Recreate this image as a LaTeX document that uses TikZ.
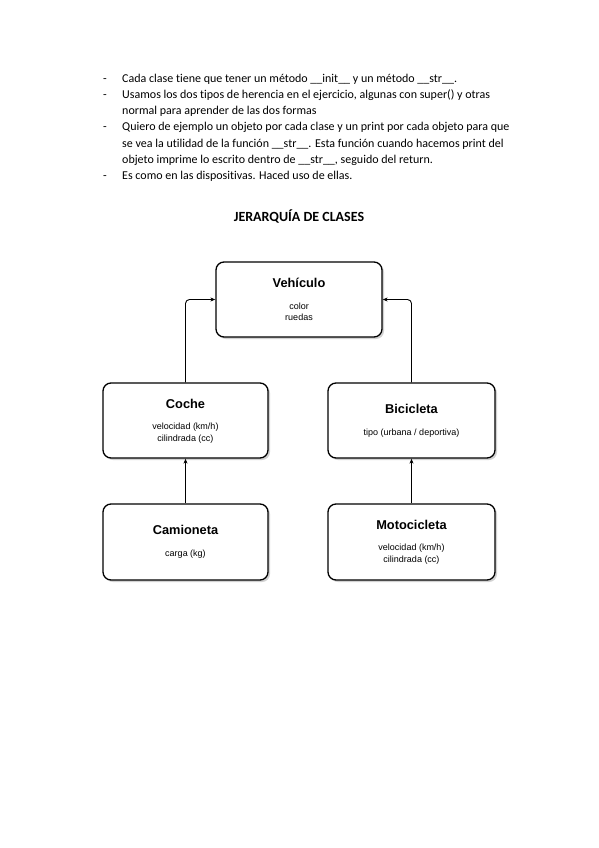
\documentclass[tikz,border=0pt]{standalone}
\usepackage{fontspec}
\setmainfont{Carlito}[Ligatures=NoCommon]
\newfontfamily\boxfont{Liberation Sans}
\usetikzlibrary{shadows,arrows.meta}
\begin{document}
\begin{tikzpicture}[x=1pt,y=-1pt,
  boxnode/.style={draw=black, line width=1.3pt, rounded corners=8pt, fill=white,
    minimum width=#1, minimum height=75pt, inner sep=0pt,
    drop shadow={shadow xshift=2pt, shadow yshift=-2pt, opacity=0.35, fill=gray}},
  boxnode/.default=166pt,
  ttl/.style={font=\boxfont\bfseries\fontsize{12.8}{14}\selectfont, inner sep=0pt},
  attr/.style={font=\boxfont\fontsize{9}{11.5}\selectfont, align=center, inner sep=0pt},
  bul/.style={font=\fontsize{12}{14}\selectfont, anchor=base west, inner sep=0pt},
  arr/.style={-{Stealth[length=5pt,width=4pt]}, line width=0.9pt, rounded corners=4pt}
]
\useasboundingbox (0,0) rectangle (599,848);
\fill[white] (0,0) rectangle (599,848);

% bullet list
\foreach \yy/\dash/\txt [count=\i] in {
  83/1/{Cada clase tiene que tener un método \_\_init\_\_ y un método \_\_str\_\_.},
  99/1/{Usamos los dos tipos de herencia en el ejercicio, algunas con super() y otras},
  115/0/{normal para aprender de las dos formas},
  131/1/{Quiero de ejemplo un objeto por cada clase y un print por cada objeto para que},
  147/0/{se vea la utilidad de la función \_\_str\_\_. Esta función cuando hacemos print del},
  163/0/{objeto imprime lo escrito dentro de \_\_str\_\_, seguido del return.},
  179/1/{Es como en las dispositivas. Haced uso de ellas.}}{
  \node[bul] (line\i) at (122,\yy) {\txt};
  \ifnum\dash=1 \node[bul] (dash\i) at (103,\yy) {-};\fi
}

\node[font=\bfseries\fontsize{14}{16}\selectfont, anchor=base, inner sep=0pt] (title) at (299,221) {JERARQUÍA DE CLASES};

% boxes
\node[boxnode=166pt] (veh) at (299,299.5) {};
\node[boxnode=165pt] (coche) at (185.5,420.5) {};
\node[boxnode=167pt] (bici) at (411.5,420.5) {};
\node[boxnode=165pt, minimum height=76pt] (cam) at (185.5,542) {};
\node[boxnode=167pt, minimum height=76pt] (moto) at (411.5,542) {};

% texts
\node[ttl] (vehT) at (299,283) {Vehículo};
\node[attr] (vehA) at (299,312) {color\\ruedas};
\node[ttl] (cocheT) at (185.5,404) {Coche};
\node[attr] (cocheA) at (185.5,433) {velocidad (km/h)\\cilindrada (cc)};
\node[ttl] (biciT) at (411.5,409) {Bicicleta};
\node[attr] (biciA) at (411.5,433) {tipo (urbana / deportiva)};
\node[ttl] (camT) at (185.5,530) {Camioneta};
\node[attr] (camA) at (185.5,554) {carga (kg)};
\node[ttl] (motoT) at (411.5,525) {Motocicleta};
\node[attr] (motoA) at (411.5,554) {velocidad (km/h)\\cilindrada (cc)};

% connectors
\draw[arr] (coche.north) |- (veh.west);
\draw[arr] (bici.north) |- (veh.east);
\draw[arr] (cam.north) -- (coche.south);
\draw[arr] (moto.north) -- (bici.south);
\end{tikzpicture}
\end{document}
